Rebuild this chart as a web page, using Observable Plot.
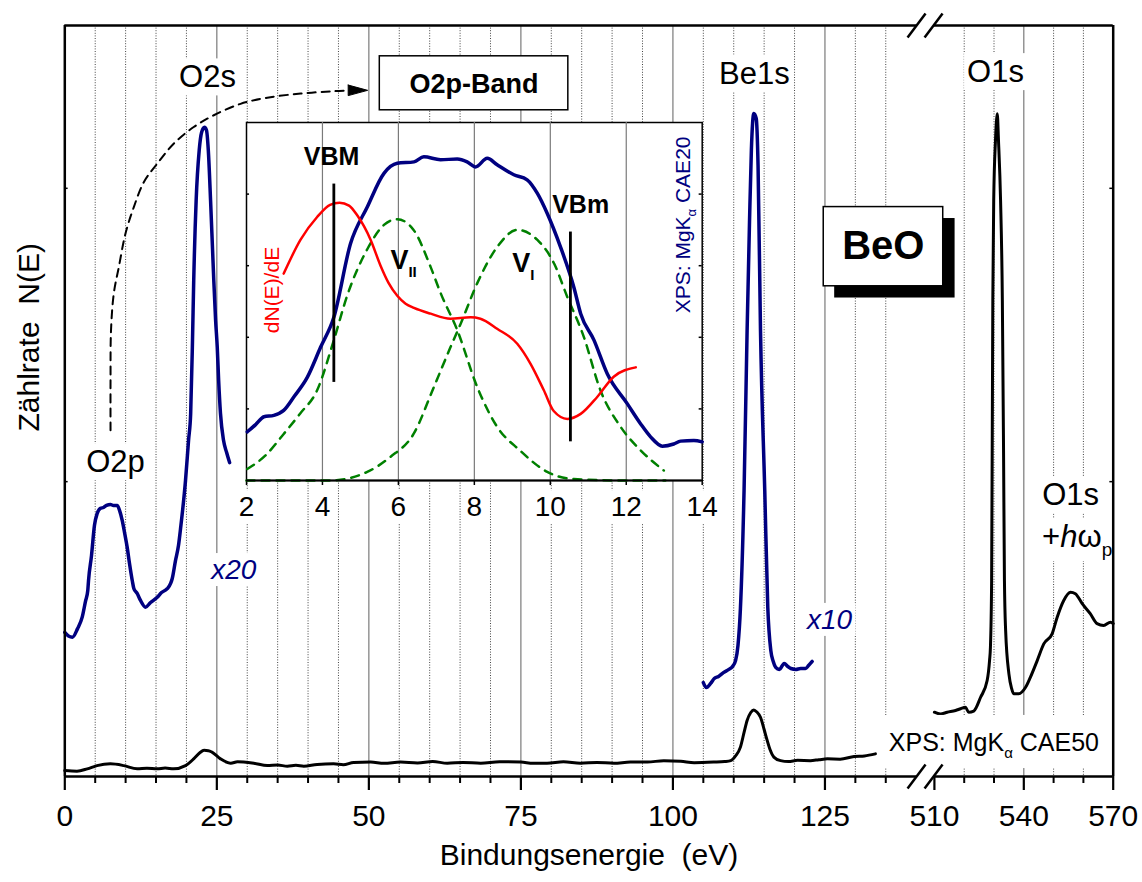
<!DOCTYPE html>
<html><head><meta charset="utf-8">
<script src="https://cdn.jsdelivr.net/npm/d3@7"></script>
<script src="https://cdn.jsdelivr.net/npm/@observablehq/plot@0.6"></script>
<style>
body{margin:0;background:#fff;}
#wrap{position:relative;width:1142px;height:882px;font-family:"Liberation Sans",Arial,sans-serif;}
#wrap svg{position:absolute;}
</style></head><body><div id="wrap"></div>
<script>
// ---------- data (binding energy in eV, intensity in arbitrary counts) ----------
const majorTicks = [0, 25, 50, 75, 100, 125, 510, 540, 570];
const minorTicks = [5,10,15,20,30,35,40,45,55,60,65,70,80,85,90,95,105,110,115,120,130,135,520,530,550,560];
const gridMajor = [25, 50, 75, 100, 125, 540];
const gridMinor = [5,10,15,20,30,35,40,45,55,60,65,70,80,85,90,95,105,110,115,120,130,135,520,530,550,560];
const yTicks = [100, 200];

// full survey spectrum (CAE50), low energy part
const surveyLow = [[0,1.5],[2.0,1.3],[3.7,2.1],[5.3,3.2],[7.5,3.8],[9.7,3.2],[11.9,2.1],[13.5,2.3],[15.2,2.1],[16.5,2.4],[17.9,2.1],[19.85,3.2],[21.2,5.5],[22.2,7.6],[22.9,8.4],[23.6,8.3],[24.2,7.8],[25.6,5.5],[27.3,4.0],[28.4,4.5],[29.4,4.4],[31.1,4.0],[33.3,3.2],[35.0,3.4],[36.6,3.0],[38.0,3.3],[39.3,3.0],[41.5,3.6],[44.2,3.8],[45.8,3.5],[47.5,4.3],[50.3,4.4],[52.5,4.0],[55.2,4.4],[58.0,4.1],[60.5,4.6],[62.9,4.0],[65.5,4.3],[68.4,4.0],[71.5,4.5],[75.0,4.4],[77.0,4.0],[79.3,4.0],[82.0,4.5],[84.8,4.0],[87.5,4.3],[90.3,4.0],[93.0,4.4],[95.8,4.4],[98.5,4.9],[101.3,4.7],[103.5,4.2],[106.7,4.4],[108.5,4.6],[109.5,4.9],[110.3,6.5],[111.1,9.5],[111.7,14.5],[112.2,18.6],[112.8,21.3],[113.3,22.2],[113.8,21.5],[114.4,19.7],[115.0,15.5],[115.5,11.8],[116.0,8.5],[116.6,6.1],[117.7,4.9],[119.0,4.6],[120.5,5.0],[122.6,4.9],[124.0,5.2],[125.4,5.5],[127.5,5.4],[129.8,6.3],[131.5,6.5],[133.3,7.2]];
// survey spectrum, O1s region
const surveyO1s = [[510,21.4],[512,20.8],[514.3,21.4],[517.1,22.0],[518.8,22.6],[520.4,23.1],[521.5,21.4],[523.2,21.8],[525.5,26.5],[527.7,32.2],[528.5,39.0],[528.8,43.6],[529.2,66.3],[529.6,161.8],[529.9,195.9],[530.5,216.4],[531.1,225.4],[531.5,216.4],[532.2,195.9],[532.8,161.8],[533.2,110.7],[533.5,66.3],[533.9,49.3],[535.0,34.5],[535.9,29.5],[536.6,27.7],[538.3,27.7],[540.6,29.9],[542.2,33.3],[544.5,39.0],[546.7,44.7],[549.5,48.1],[551.2,53.8],[553.4,59.5],[555.7,62.3],[557.3,61.8],[559.6,58.4],[562.3,55.0],[564.6,51.6],[566.8,51.0],[569.1,52.1],[570,51.6]];
// x20 magnified valence / O2s region
const detailX20 = [[0,48.6],[0.6,47.4],[1.27,47.0],[2.1,49.9],[2.86,53.8],[3.4,59.2],[3.78,62.9],[3.9,66.3],[4.39,74.8],[4.88,85.1],[5.33,89.2],[5.87,90.9],[6.37,91.2],[6.86,91.9],[7.52,92.2],[8.0,91.9],[8.62,91.9],[9.0,90.2],[9.44,86.8],[9.82,82.7],[10.26,77.6],[10.64,72.1],[11.09,66.3],[11.35,63.6],[11.9,61.9],[12.45,59.5],[13.27,57.2],[14.1,58.8],[15.2,60.6],[15.9,62.2],[16.84,63.5],[17.4,65.3],[17.67,67.0],[18.2,73.1],[18.7,78.3],[19.0,83.4],[19.85,100.4],[20.35,114.1],[20.7,123.3],[21.0,148.2],[21.2,168.6],[21.6,195.9],[22.1,212.9],[22.5,219.1],[22.97,220.8],[23.3,219.8],[23.6,212.9],[23.97,195.9],[24.3,178.9],[24.5,168.6],[24.8,155.0],[25.07,145.8],[25.3,134.5],[25.6,123.3],[26.1,114.1],[26.6,110.0],[27.1,106.5]];
// x10 magnified Be1s region
const detailX10 = [[105.0,31.5],[105.5,29.8],[106.2,31.2],[106.8,32.9],[107.5,33.6],[108.3,34.9],[109.2,36.0],[109.8,37.0],[110.3,39.0],[110.7,44.2],[111.1,56.8],[111.7,97.1],[112.2,151.6],[112.6,189.1],[112.9,213.0],[113.3,225.5],[113.7,223.8],[114.0,207.8],[114.4,151.6],[115.1,97.1],[115.6,57.1],[116.1,42.4],[116.5,38.7],[116.9,36.7],[117.5,36.0],[118.3,38.0],[118.9,37.0],[119.4,36.3],[120.2,36.0],[121.0,36.3],[121.8,36.3],[122.3,37.3],[122.9,38.7]];

// inset: O2p band (energy eV, intensity)
const insetTicks = [2, 4, 6, 8, 10, 12, 14];
const insetGrid = [4, 6, 8, 10, 12];
const insetYTicks = [1, 2, 3, 4];
const bandN = [[2.02,0.68],[2.24,0.78],[2.46,0.89],[2.72,0.91],[2.98,0.98],[3.25,1.17],[3.6,1.44],[3.95,1.86],[4.3,2.28],[4.74,3.31],[5.18,3.82],[5.62,4.29],[5.97,4.43],[6.41,4.45],[6.67,4.52],[7.11,4.48],[7.55,4.49],[7.81,4.45],[8.03,4.38],[8.34,4.50],[8.6,4.41],[9.04,4.27],[9.39,4.20],[9.66,4.01],[9.92,3.73],[10.27,3.26],[10.62,2.70],[10.8,2.33],[11.15,1.96],[11.5,1.49],[12.03,1.07],[12.38,0.79],[12.64,0.61],[12.95,0.48],[13.25,0.51],[13.43,0.55],[13.78,0.56],[14.0,0.54]];
const bandDeriv = [[2.98,2.89],[3.42,3.36],[3.86,3.68],[4.2,3.85],[4.45,3.88],[4.7,3.84],[4.92,3.70],[5.27,3.36],[5.53,3.0],[5.74,2.76],[5.97,2.58],[6.19,2.47],[6.41,2.41],[6.85,2.33],[7.37,2.26],[7.9,2.28],[8.16,2.26],[8.6,2.12],[9.13,1.91],[9.48,1.63],[9.83,1.26],[10.09,0.97],[10.45,0.86],[10.8,0.93],[11.24,1.17],[11.67,1.45],[12.25,1.58]];
const bandVII = [[2.02,0.16],[2.5,0.35],[2.98,0.65],[3.42,0.94],[3.86,1.26],[4.3,1.96],[4.65,2.58],[5.18,3.23],[5.62,3.57],[5.97,3.65],[6.4,3.50],[6.85,2.98],[7.11,2.62],[7.55,2.10],[8.08,1.30],[8.6,0.75],[9.2,0.42],[9.92,0.12],[10.62,0.02],[11.85,0],[13.03,0]];
const bandVI = [[2.0,0],[4.2,0],[5.18,0.12],[5.79,0.33],[6.4,0.65],[6.93,1.30],[7.37,1.86],[7.64,2.19],[8.08,2.76],[8.6,3.26],[9.13,3.50],[9.66,3.36],[10.1,3.03],[10.45,2.56],[10.88,2.01],[11.32,1.26],[11.85,0.75],[12.38,0.42],[12.99,0.14]];
const bandMarkers = [{t:"VBM", E:4.3, lo:1.37, hi:4.14, lx:4.24, ly:4.41},{t:"VBm", E:10.53, lo:0.54, hi:3.47, lx:10.8, ly:3.73}];

// ---------- broken axis: 0–140 eV and 510–570 eV ----------
const U = E => E <= 140 ? E : 143 + (E - 510) * 0.49;
const XMAX = U(570), YMIN = -0.51, YMAX = 255.5;
const NAVY = "#000080", GREEN = "#008000";
const FONT = '"Liberation Sans", Arial, sans-serif';

// annotations (x in broken-axis units, y in counts)
const peakLabels = [{t:"O2s",u:23.47,n:234.4},{t:"O2p",u:8.34,n:103.2},{t:"Be1s",u:113.4,n:235.7},{t:"O1s",u:153.05,n:236.2},{t:"O1s",u:165.4,n:91.9}];
const factorLabels = [{t:"x20",u:27.8,n:66.8},{t:"x10",u:125.75,n:49.8}];
const arrowPath = [[7.52,117.5],[7.52,134.5],[7.6,151.6],[8.06,164.2],[8.88,173.1],[9.98,184.6],[11.35,193.6],[12.99,202.1],[15.2,208.4],[17.9,215.2],[21.2,220.9],[24.5,224.9],[28.9,228.8],[33.3,230.9],[38.8,232.3],[44.2,233.1],[47.0,233.4]];
const arrowHead = [[46.6,235.2],[49.8,233.4],[46.6,231.6],[46.6,235.2]];
const bandBox = {x1:51.8, x2:82.8, y1:226.6, y2:245.0, cx:67.3, cy:235.6};
const beoBox = {x1:124.8, x2:144.45, y1:166.6, y2:193.6, cx:134.6, cy:180.1};
const beoShadow = {x1:126.6, x2:146.4, y1:162.6, y2:189.7};
const caeBox = {x1:134.1, x2:XMAX, y1:2.2, y2:20.3};
const gapL = 140.1, gapR = 142.9;
const slashC = [140.06, 142.86];
const slashes = [];
for (const c of slashC) for (const yc of [YMIN, YMAX]) slashes.push({x1:c-1.48, y1:yc-4.09, x2:c+1.48, y2:yc+4.09});

const kY = 2.933; // px per count
const main = Plot.plot({
  width: 1142, height: 882,
  marginLeft: 64.3, marginRight: 29.3, marginTop: 25, marginBottom: 106,
  x: {domain: [0, XMAX], axis: null},
  y: {domain: [YMIN, YMAX], axis: null},
  style: {fontFamily: FONT, background: "white", overflow: "visible"},
  marks: [
    Plot.ruleX(gridMinor, {x: d => U(d), stroke: "#444", strokeWidth: 1, strokeDasharray: "1,1.6"}),
    Plot.ruleX(gridMajor, {x: d => U(d), stroke: "#7a7a7a", strokeWidth: 1.2}),
    Plot.line(surveyLow, {x: d => U(d[0]), y: d => d[1], stroke: "black", strokeWidth: 3, curve: "monotone-x"}),
    Plot.line(surveyO1s, {x: d => U(d[0]), y: d => d[1], stroke: "black", strokeWidth: 3, curve: "monotone-x"}),
    Plot.line(detailX20, {x: d => U(d[0]), y: d => d[1], stroke: NAVY, strokeWidth: 3.5, curve: "monotone-x"}),
    Plot.line(detailX10, {x: d => U(d[0]), y: d => d[1], stroke: NAVY, strokeWidth: 3.5, curve: "monotone-x"}),
    Plot.line(arrowPath, {x: d => d[0], y: d => d[1], stroke: "black", strokeWidth: 2, strokeDasharray: "8,6", curve: "catmull-rom"}),
    Plot.line(arrowHead, {x: d => d[0], y: d => d[1], fill: "black", stroke: "black", strokeWidth: 1}),
    Plot.rect([bandBox], {x1: "x1", x2: "x2", y1: "y1", y2: "y2", fill: "white", stroke: "black", strokeWidth: 1.5}),
    Plot.text([bandBox], {x: "cx", y: "cy", text: () => "O2p-Band", fontSize: 27, fontWeight: "bold", fill: "black"}),
    Plot.rect([beoShadow], {x1: "x1", x2: "x2", y1: "y1", y2: "y2", fill: "black"}),
    Plot.rect([beoBox], {x1: "x1", x2: "x2", y1: "y1", y2: "y2", fill: "white", stroke: "black", strokeWidth: 1.5}),
    Plot.text([beoBox], {x: "cx", y: "cy", text: () => "BeO", fontSize: 40, fontWeight: "bold", fill: "black"}),
    Plot.rect([caeBox], {x1: "x1", x2: "x2", y1: "y1", y2: "y2", fill: "white"}),
    Plot.text([{u:135.5, n:8.35}], {x: "u", y: "n", text: () => "XPS: MgKα CAE50", textAnchor: "start", lineAnchor: "bottom", fontSize: 25, fill: "black"}),
    Plot.text(peakLabels, {x: "u", y: "n", text: "t", lineAnchor: "bottom", fontSize: 31, fill: "black"}),
    Plot.text([{u:160.7, n:77.7}], {x: "u", y: "n", text: () => "+hωp", textAnchor: "start", lineAnchor: "bottom", fontSize: 31, fill: "black"}),
    Plot.text(factorLabels, {x: "u", y: "n", text: "t", lineAnchor: "bottom", fontSize: 28, fontStyle: "italic", fill: NAVY}),
    // frame
    Plot.ruleX([0, XMAX], {stroke: "black", strokeWidth: 2.5}),
    Plot.ruleY([YMIN, YMAX], {x1: 0, x2: gapL, stroke: "black", strokeWidth: 2.5}),
    Plot.ruleY([YMIN, YMAX], {x1: gapR, x2: XMAX, stroke: "black", strokeWidth: 2.5}),
    Plot.link(slashes, {x1: "x1", y1: "y1", x2: "x2", y2: "y2", stroke: "black", strokeWidth: 2.5}),
    Plot.ruleY(yTicks, {x1: 0, x2: 0.55, stroke: "black", strokeWidth: 1.5}),
    Plot.ruleY(yTicks, {x1: XMAX - 0.55, x2: XMAX, stroke: "black", strokeWidth: 1.5}),
    Plot.ruleX(majorTicks, {x: d => U(d), y1: YMIN, y2: YMIN - 14 / kY, stroke: "black", strokeWidth: 2.2}),
    Plot.ruleX(minorTicks, {x: d => U(d), y1: YMIN, y2: YMIN - 7 / kY, stroke: "black", strokeWidth: 2}),
    Plot.text(majorTicks, {x: d => U(d), y: YMIN, dy: 28, lineAnchor: "top", text: d => String(d), fontSize: 30, fill: "black"}),
    Plot.text(["Bindungsenergie  (eV)"], {frameAnchor: "bottom", dy: 88, text: d => d, fontSize: 30, fill: "black"}),
    Plot.text(["Zählrate  N(E)"], {frameAnchor: "left", y: () => 117.1, dx: -35.3, rotate: -90, text: d => d, fontSize: 30, fill: "black"})
  ]
});

const inset = Plot.plot({
  width: 540, height: 430,
  marginLeft: 46, marginRight: 38.3, marginTop: 12, marginBottom: 60,
  x: {domain: [2, 14], axis: null},
  y: {domain: [0, 5], axis: null},
  style: {fontFamily: FONT, background: "transparent", overflow: "visible"},
  marks: [
    Plot.frame({fill: "white", stroke: "black", strokeWidth: 1.5}),
    Plot.ruleX(insetGrid, {stroke: "#7a7a7a", strokeWidth: 1.2}),
    Plot.ruleY(insetYTicks, {x1: 2, x2: 2.08, stroke: "black", strokeWidth: 1.5}),
    Plot.ruleY(insetYTicks, {x1: 13.92, x2: 14, stroke: "black", strokeWidth: 1.5}),
    Plot.ruleX(insetTicks, {y1: 0, y2: -5 / 71.6, stroke: "black", strokeWidth: 1.5}),
    Plot.line(bandVII, {x: d => d[0], y: d => d[1], stroke: GREEN, strokeWidth: 2.5, strokeDasharray: "8,7", curve: "monotone-x"}),
    Plot.line(bandVI, {x: d => d[0], y: d => d[1], stroke: GREEN, strokeWidth: 2.5, strokeDasharray: "8,7", curve: "monotone-x"}),
    Plot.line(bandN, {x: d => d[0], y: d => d[1], stroke: NAVY, strokeWidth: 3.5, curve: "monotone-x"}),
    Plot.line(bandDeriv, {x: d => d[0], y: d => d[1], stroke: "red", strokeWidth: 2.5, curve: "monotone-x"}),
    Plot.ruleX(bandMarkers, {x: "E", y1: "lo", y2: "hi", stroke: "black", strokeWidth: 2.8}),
    Plot.text(bandMarkers, {x: "lx", y: "ly", text: "t", lineAnchor: "bottom", fontSize: 25, fontWeight: "bold", fill: "black"}),
    Plot.text([{t:"VII", x:5.79, y:2.96},{t:"VI", x:9.0, y:2.91}], {x: "x", y: "y", text: "t", textAnchor: "start", lineAnchor: "bottom", fontSize: 27, fontWeight: "bold", fill: "black"}),
    Plot.text([{x:2.68, y:2.66}], {x: "x", y: "y", text: () => "dN(E)/dE", rotate: -90, fontSize: 21, fill: "red"}),
    Plot.text([{x:13.5, y:3.57}], {x: "x", y: "y", text: () => "XPS: MgKα CAE20", rotate: -90, fontSize: 21, fill: NAVY}),
    Plot.ruleY([0], {stroke: "black", strokeWidth: 2}),
    Plot.text(insetTicks, {x: d => d, y: 0, dy: 26.7, text: d => String(d), fontSize: 28, fill: "black"})
  ]
});

const wrap = document.getElementById("wrap");
main.style.left = "0px"; main.style.top = "0px";
inset.style.left = "200px"; inset.style.top = "110px";
wrap.appendChild(main);
wrap.appendChild(inset);

// rich text: subscripts / italics as tspans
function rich(svg, plain, parts) {
  d3.select(svg).selectAll("text").filter(function () { return this.textContent === plain; }).each(function () {
    const t = d3.select(this); t.text(null);
    let prev = 0;
    for (const p of parts) {
      const s = t.append("tspan").text(p.t);
      const dy = (p.dy || 0) - prev;
      if (dy) s.attr("dy", dy);
      prev = p.dy || 0;
      if (p.size) s.attr("font-size", p.size);
      if (p.italic) s.attr("font-style", "italic");
    }
  });
}
rich(main, "XPS: MgKα CAE50", [{t:"XPS: MgK"},{t:"α", size:15, dy:7},{t:" CAE50"}]);
rich(main, "+hωp", [{t:"+"},{t:"h", italic:true},{t:"ω"},{t:"p", size:19, dy:9}]);
rich(inset, "XPS: MgKα CAE20", [{t:"XPS: MgK"},{t:"α", size:13, dy:6}, {t:" CAE20"}]);
rich(inset, "VII", [{t:"V"},{t:"II", size:15, dy:8}]);
rich(inset, "VI", [{t:"V"},{t:"I", size:15, dy:8}]);

// white label backgrounds that interrupt the grid lines
function boxBehind(svg, labels, pad) {
  d3.select(svg).selectAll("text").filter(function () { return labels.includes(this.textContent); }).each(function () {
    const b = this.getBBox();
    const r = document.createElementNS("http://www.w3.org/2000/svg", "rect");
    r.setAttribute("x", b.x - pad); r.setAttribute("y", b.y - 1);
    r.setAttribute("width", b.width + 2 * pad); r.setAttribute("height", b.height + 2);
    r.setAttribute("fill", "white"); r.setAttribute("stroke", "none");
    const tr = this.getAttribute("transform"); if (tr) r.setAttribute("transform", tr);
    this.parentNode.insertBefore(r, this);
  });
}
boxBehind(main, ["O2s","O2p","Be1s","O1s","+hωp","x20","x10"], 3);
boxBehind(inset, insetTicks.map(String), 3);
</script></body></html>
